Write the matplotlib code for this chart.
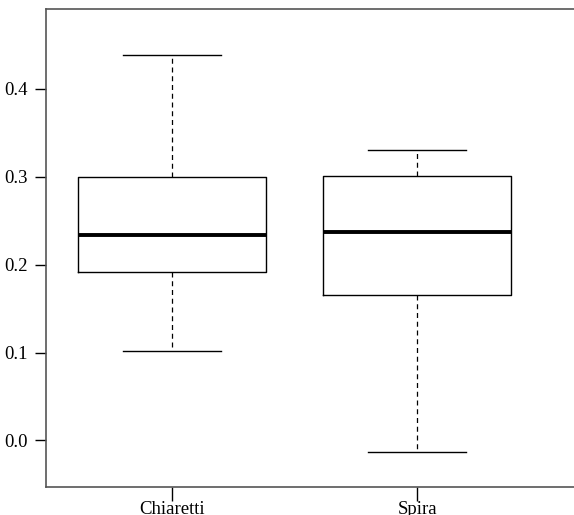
import matplotlib.pyplot as plt

labels = ['Chiaretti', 'Spira']
whislo = [0.102, -0.0135]
q1 = [0.192, 0.165]
med = [0.234, 0.2375]
q3 = [0.300, 0.301]
whishi = [0.439, 0.331]

plt.rcParams['font.family'] = ['Liberation Serif', 'DejaVu Serif']

fig = plt.figure(figsize=(5.74, 5.15), dpi=100)
ax = fig.add_axes([46/574, 28/515, 1 - 46/574, 478/515])

stats = []
for i in range(len(labels)):
    stats.append(dict(label=labels[i], whislo=whislo[i], q1=q1[i], med=med[i],
                      q3=q3[i], whishi=whishi[i], fliers=[]))

ax.bxp(stats, positions=[1, 2], widths=0.77, showfliers=False,
       boxprops=dict(color='black', linewidth=1.0),
       medianprops=dict(color='black', linewidth=2.8),
       whiskerprops=dict(color='black', linewidth=0.9, linestyle=(0, (4, 3))),
       capprops=dict(color='black', linewidth=1.0),
       capwidths=0.4)

ax.set_xlim(0.486, 2.64)
ax.set_ylim(-0.053, 0.491)
ax.set_yticks([0.0, 0.1, 0.2, 0.3, 0.4])
ax.set_yticklabels(['0.0', '0.1', '0.2', '0.3', '0.4'])
ax.spines['right'].set_visible(False)
for s in ['left', 'top', 'bottom']:
    ax.spines[s].set_color('#555555')
    ax.spines[s].set_linewidth(1.2)
ax.tick_params(axis='y', length=8, width=1, labelsize=13.5, pad=5)
ax.tick_params(axis='x', length=10, width=1, labelsize=13.5, pad=0)

fig.savefig('out.png', dpi=100)
